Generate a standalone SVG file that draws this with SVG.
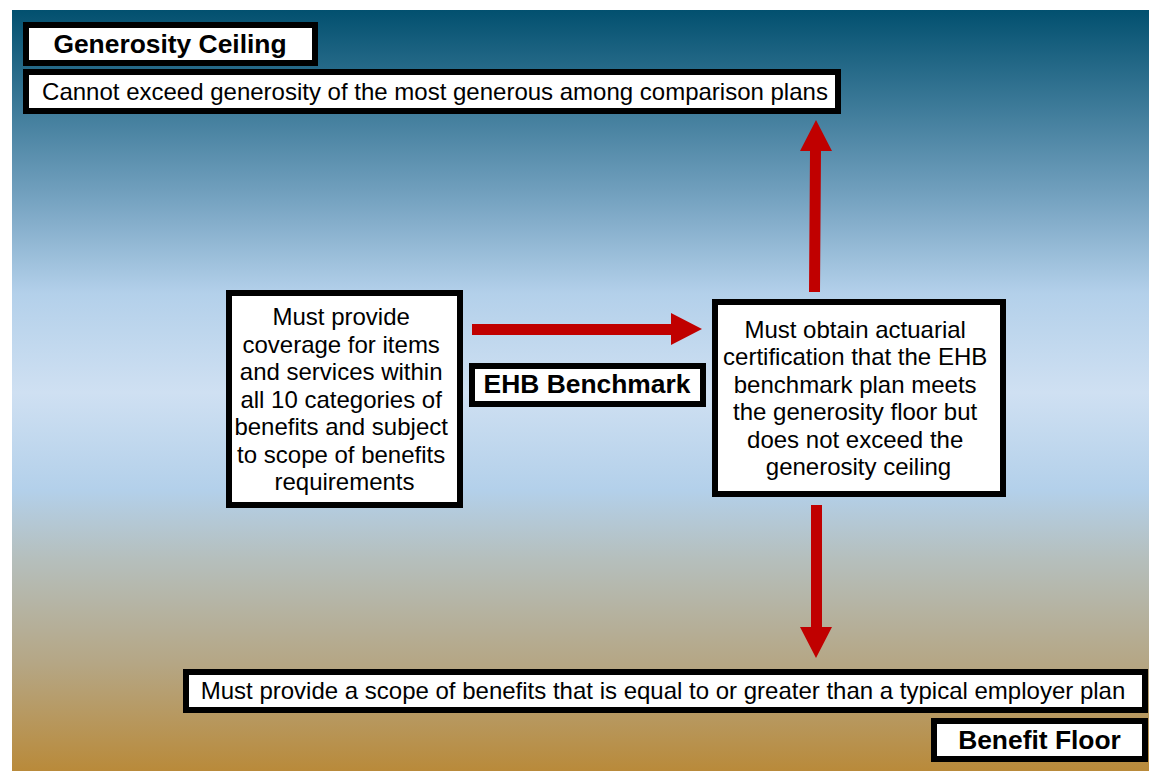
<svg xmlns="http://www.w3.org/2000/svg" width="1149" height="772" viewBox="0 0 1149 772">
<defs>
<linearGradient id="bg" x1="0" y1="0" x2="0" y2="1">
<stop offset="0" stop-color="#02506f"/>
<stop offset="0.25" stop-color="#76a3c1"/>
<stop offset="0.372" stop-color="#b3d0ea"/>
<stop offset="0.503" stop-color="#cfe0f2"/>
<stop offset="0.631" stop-color="#b3d0ea"/>
<stop offset="0.72" stop-color="#b5bfbd"/>
<stop offset="0.86" stop-color="#b5a684"/>
<stop offset="1" stop-color="#b98a3a"/>
</linearGradient>
</defs>
<style>
.box{fill:#fff;stroke:#000;stroke-width:6}
.t{font-family:"Liberation Sans",Arial,sans-serif;font-size:24px;fill:#000;text-anchor:middle}
.b{font-weight:bold;font-size:26.4px}
.arrow{fill:#c00000}
</style>
<rect x="0" y="0" width="1149" height="772" fill="#fff"/>
<rect x="12" y="10" width="1137" height="761" fill="url(#bg)"/>
<g id="connectors">
<polygon class="arrow" points="809,292 820,292 821,151 832,151 816,120 800,151 810,151"/>
<polygon class="arrow" points="811,505 822,505 822,627 832,627 816,658 800,627 811,627"/>
<polygon class="arrow" points="472,324 671,324 671,313 702,329 671,345 671,335 472,335"/>
</g>
<g id="generosity-ceiling">
<rect class="box" x="26" y="25" width="289" height="38"/>
<text class="t b" x="170" y="53.3">Generosity Ceiling</text>
</g>
<g id="ceiling-desc">
<rect class="box" x="26" y="72" width="812" height="39"/>
<text class="t" x="435" y="99.5">Cannot exceed generosity of the most generous among comparison plans</text>
</g>
<g id="coverage">
<rect class="box" x="229" y="293" width="231" height="212"/>
<text class="t" x="344.5">
<tspan x="344.5" y="325">Must provide</tspan>
<tspan x="344.5" y="352.5">coverage for items</tspan>
<tspan x="344.5" y="380">and services within</tspan>
<tspan x="344.5" y="407.5">all 10 categories of</tspan>
<tspan x="344.5" y="435">benefits and subject</tspan>
<tspan x="344.5" y="462.5">to scope of benefits</tspan>
<tspan x="344.5" y="490">requirements</tspan>
</text>
</g>
<g id="ehb-benchmark">
<rect class="box" x="472" y="366" width="231" height="38"/>
<text class="t b" x="587" y="393.3">EHB Benchmark</text>
</g>
<g id="certification">
<rect class="box" x="715" y="302" width="288" height="192"/>
<text class="t" x="858.5">
<tspan x="858.5" y="337.7">Must obtain actuarial</tspan>
<tspan x="858.5" y="365.2">certification that the EHB</tspan>
<tspan x="858.5" y="392.7">benchmark plan meets</tspan>
<tspan x="858.5" y="420.2">the generosity floor but</tspan>
<tspan x="858.5" y="447.7">does not exceed the</tspan>
<tspan x="858.5" y="475.2">generosity ceiling</tspan>
</text>
</g>
<g id="floor-desc">
<rect class="box" x="186" y="672" width="959" height="38"/>
<text class="t" x="663" y="699">Must provide a scope of benefits that is equal to or greater than a typical employer plan</text>
</g>
<g id="benefit-floor">
<rect class="box" x="934" y="721" width="211" height="38"/>
<text class="t b" x="1039.5" y="749.3">Benefit Floor</text>
</g>
</svg>
